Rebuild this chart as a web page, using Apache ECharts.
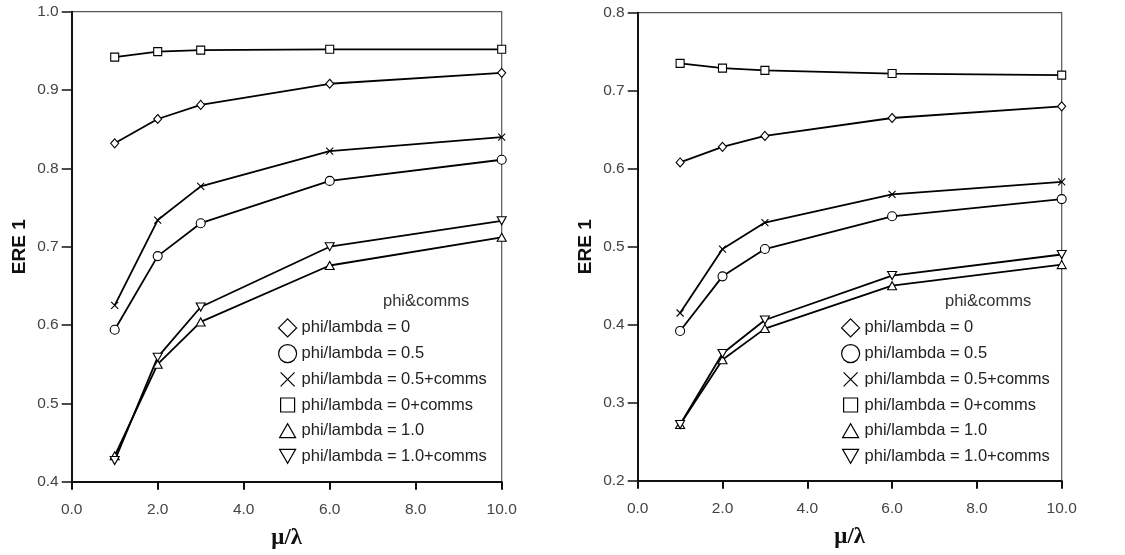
<!DOCTYPE html>
<html>
<head>
<meta charset="utf-8">
<script src="https://cdn.jsdelivr.net/npm/echarts@6/dist/echarts.min.js"></script>
<style>
html,body{margin:0;padding:0;background:#fff;}
#c{width:1125px;height:555px;}
</style>
</head>
<body>
<div id="c"></div>
<script>
// ---- data ----
const xVals = [1, 2, 3, 6, 10];
const seriesNames = ['phi/lambda = 0', 'phi/lambda = 0.5', 'phi/lambda = 0.5+comms', 'phi/lambda = 0+comms', 'phi/lambda = 1.0', 'phi/lambda = 1.0+comms'];

const L_phi0   = [0.832, 0.863, 0.881, 0.908, 0.922];
const L_phi05  = [0.594, 0.688, 0.730, 0.784, 0.811];
const L_phi05c = [0.625, 0.734, 0.777, 0.822, 0.840];
const L_phi0c  = [0.942, 0.949, 0.951, 0.952, 0.952];
const L_phi1   = [0.433, 0.550, 0.604, 0.676, 0.712];
const L_phi1c  = [0.427, 0.559, 0.623, 0.700, 0.733];

const R_phi0   = [0.608, 0.628, 0.642, 0.665, 0.680];
const R_phi05  = [0.392, 0.462, 0.497, 0.539, 0.561];
const R_phi05c = [0.415, 0.497, 0.531, 0.567, 0.583];
const R_phi0c  = [0.735, 0.729, 0.726, 0.722, 0.720];
const R_phi1   = [0.272, 0.355, 0.395, 0.450, 0.477];
const R_phi1c  = [0.272, 0.363, 0.406, 0.463, 0.490];

const leftData  = [L_phi0, L_phi05, L_phi05c, L_phi0c, L_phi1, L_phi1c];
const rightData = [R_phi0, R_phi05, R_phi05c, R_phi0c, R_phi1, R_phi1c];

const yTitle = 'ERE 1';
const xTitle = 'μ/λ';
const legendTitle = 'phi&comms';

// ---- styling ----
const FONT = '"Liberation Sans", Arial, sans-serif';
const symbols = [
  'diamond',
  'circle',
  'path://M0,0L10,10M10,0L0,10',
  'rect',
  'triangle',
  'path://M0,0L10,0L5,9Z'
];
const symbolSizes = [[8, 9], 9, 7, 8, [9, 8], [9, 8]];
const legendIcons = [
  'diamond',
  'circle',
  'path://M0,0M18,18M2,2L16,16M16,2L2,16',
  'path://M0,0M18,18M2,2L16,2L16,16L2,16Z',
  'path://M0,0M18,18M1,16L17,16L9,2Z',
  'path://M0,0M18,18M1,2L17,2L9,16Z'
];

function pairs(arr) { return xVals.map((x, i) => [x, arr[i]]); }

const chart = echarts.init(document.getElementById('c'), null, {renderer: 'canvas'});

const grids = [
  {left: 71.7, top: 11.7, width: 430, height: 470},
  {left: 637.7, top: 12.7, width: 424, height: 468}
];

function xAxisCfg(gi) {
  return {
    gridIndex: gi, type: 'value', min: 0, max: 10, interval: 2,
    name: xTitle, nameLocation: 'middle', nameGap: 45,
    nameTextStyle: {fontFamily: '"Liberation Serif", "DejaVu Serif", serif', fontWeight: 'bold', fontSize: 23, color: '#111'},
    axisLine: {show: true, lineStyle: {color: '#111', width: 2}},
    axisTick: {show: true, length: 8, lineStyle: {color: '#111', width: 2}},
    axisLabel: {fontFamily: FONT, fontSize: 15.5, color: '#444', margin: 20, formatter: v => v.toFixed(1)},
    splitLine: {show: false}
  };
}
function yAxisCfg(gi, mn, mx) {
  return {
    gridIndex: gi, type: 'value', min: mn, max: mx, interval: 0.1,
    name: yTitle, nameLocation: 'middle', nameGap: 42, nameRotate: 90,
    nameTextStyle: {fontFamily: FONT, fontWeight: 'bold', fontSize: 19, color: '#111'},
    axisLine: {show: true, lineStyle: {color: '#111', width: 2}},
    axisTick: {show: true, length: 10, lineStyle: {color: '#111', width: 1.5}},
    axisLabel: {fontFamily: FONT, fontSize: 15.5, color: '#444', margin: 13, formatter: v => v.toFixed(1)},
    splitLine: {show: false}
  };
}

const series = [];
[leftData, rightData].forEach((set, gi) => {
  set.forEach((arr, si) => {
    series.push({
      type: 'line', name: seriesNames[si],
      xAxisIndex: gi, yAxisIndex: gi,
      data: pairs(arr),
      symbol: symbols[si], symbolSize: symbolSizes[si],
      showAllSymbol: true, clip: false, silent: true,
      lineStyle: {color: '#000', width: 1.8},
      itemStyle: {color: '#fff', borderColor: '#000', borderWidth: 1.1},
      emphasis: {disabled: true},
      z: 2
    });
  });
});

function legendCfg(left) {
  return {
    left: left, top: 318.3, orient: 'vertical', padding: 0,
    itemWidth: 18, itemHeight: 18, itemGap: 6.5,
    selectedMode: false,
    textStyle: {fontFamily: FONT, fontSize: 16.5, color: '#222'},
    itemStyle: {color: '#fff', borderColor: '#000', borderWidth: 1.2},
    data: seriesNames.map((n, i) => ({name: n, icon: legendIcons[i]}))
  };
}

chart.setOption({
  animation: false,
  backgroundColor: '#fff',
  grid: grids.map(g => Object.assign({show: true, borderColor: '#555', borderWidth: 1.2, backgroundColor: 'transparent', containLabel: false, outerBoundsMode: 'none'}, g)),
  xAxis: [xAxisCfg(0), xAxisCfg(1)],
  yAxis: [yAxisCfg(0, 0.4, 1.0), yAxisCfg(1, 0.2, 0.8)],
  legend: [legendCfg(278), legendCfg(841)],
  graphic: [
    {type: 'text', left: 383, top: 293, style: {text: legendTitle, font: '16.5px ' + FONT, fill: '#333', align: 'center'}},
    {type: 'text', left: 945, top: 293, style: {text: legendTitle, font: '16.5px ' + FONT, fill: '#333', align: 'center'}}
  ],
  series: series
});
</script>
</body>
</html>
